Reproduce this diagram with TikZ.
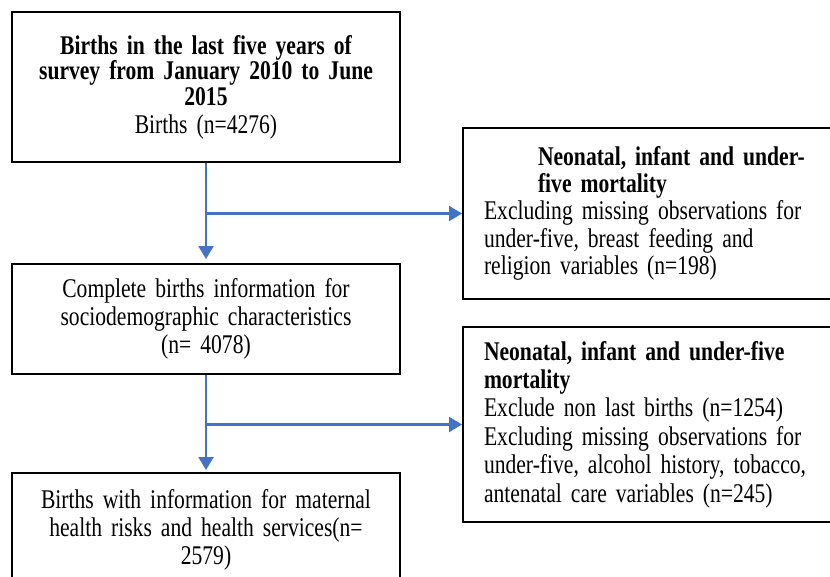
\documentclass[tikz,border=0pt]{standalone}
\usepackage{fontspec}
\setmainfont{Liberation Serif}[FakeStretch=0.80,WordSpace=0.85]
\usetikzlibrary{arrows.meta,calc}
\definecolor{flowblue}{HTML}{4472C4}
\begin{document}
\begin{tikzpicture}[x=1pt,y=-1pt,
  box/.style={draw=black, line width=2pt, inner sep=0pt, fill=white},
  ctrbox/.style={box, align=center, text width=380pt, minimum width=388pt,
    font=\fontsize{27}{28}\selectfont},
  sidebox/.style={box, align=left, anchor=west, inner xsep=21pt, text width=360pt,
    font=\fontsize{27}{27.5}\selectfont},
  flow/.style={draw=flowblue, line width=2.2pt, -{Triangle[length=13pt,width=15pt]}},
  plainflow/.style={draw=flowblue, line width=2.2pt}]
\useasboundingbox (0,0) rectangle (830,576);
\clip (0,0) rectangle (830,576);
\fill[white] (0,0) rectangle (830,576);

\node[ctrbox, minimum height=150pt] (b1) at (206,87)
  {{\bfseries Births in the last five years of\\[-2.5pt]
   survey from January 2010 to June\\[-2.5pt]
   2015}\\
   Births (n=4276)};

\node[sidebox, minimum height=171pt] (b2) at (462,213.5)
  {\hspace*{54pt}{\bfseries Neonatal, infant and under-}\\[-1pt]
   \hspace*{54pt}{\bfseries five mortality}\\
   Excluding missing observations for\\
   under-five, breast feeding and\\
   religion variables (n=198)};

\node[ctrbox, minimum height=110pt] (b3) at (206,319)
  {Complete births information for\\
   sociodemographic characteristics\\
   (n= 4078)};

\node[sidebox, minimum height=195pt, font=\fontsize{27}{28.4}\selectfont] (b4) at (462,424.5)
  {{\bfseries Neonatal, infant and under-five}\\
   {\bfseries mortality}\\
   Exclude non last births (n=1254)\\
   Excluding missing observations for\\
   under-five, alcohol history, tobacco,\\
   antenatal care variables (n=245)};

\node[ctrbox, minimum height=113pt] (b5) at (206,529.5)
  {Births with information for maternal\\
   health risks and health services(n=\\
   2579)};

\coordinate (j1) at (b1.south |- b2.west);
\coordinate (j2) at (b3.south |- b4.west);

\draw[flow, shorten >=4pt] (b1.south) -- (b3.north);
\draw[flow] (j1) -- (b2.west);
\draw[flow, shorten >=2pt] (b3.south) -- (b5.north);
\draw[flow] (j2) -- (b4.west);
\end{tikzpicture}
\end{document}
